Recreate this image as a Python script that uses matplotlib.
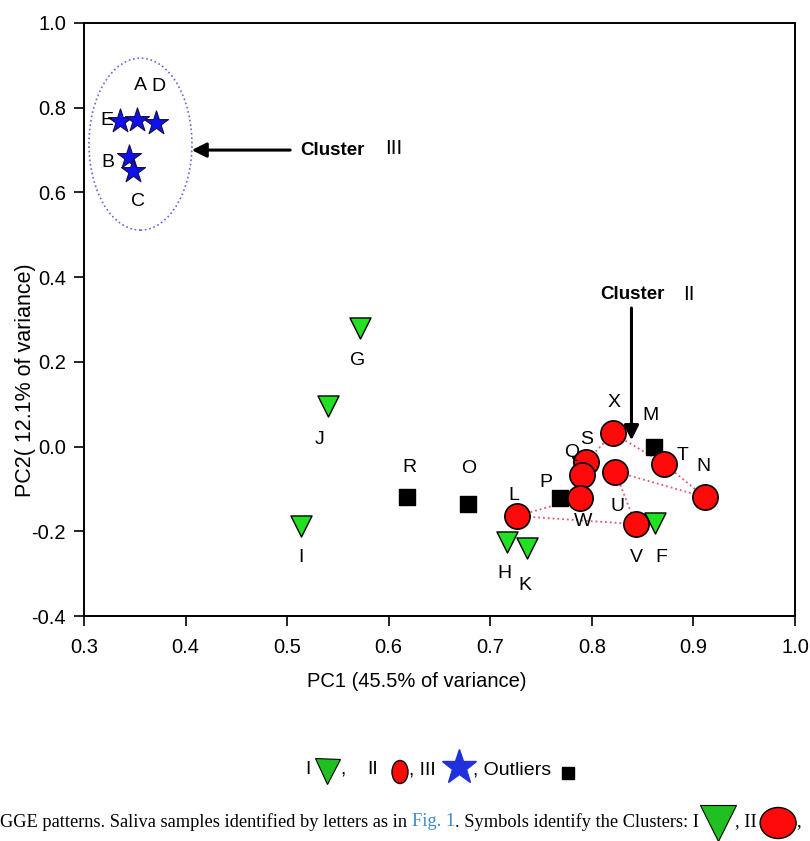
import matplotlib
matplotlib.use('Agg')
import matplotlib.pyplot as plt
from matplotlib.patches import Ellipse

# cluster I (green triangles)
labels_I = ['G', 'J', 'I', 'H', 'K', 'F']
pc1_I = [0.572, 0.540, 0.514, 0.716, 0.736, 0.862]
pc2_I = [0.280, 0.096, -0.188, -0.226, -0.240, -0.181]

# cluster II (red circles)
labels_II = ['X', 'T', 'N', 'U', 'V', 'S', 'Q', 'W', 'L']
pc1_II = [0.821, 0.871, 0.911, 0.823, 0.843, 0.794, 0.790, 0.788, 0.726]
pc2_II = [0.031, -0.040, -0.119, -0.059, -0.183, -0.036, -0.067, -0.122, -0.164]

# cluster III (blue stars)
labels_III = ['E', 'A', 'D', 'B', 'C']
pc1_III = [0.335, 0.352, 0.371, 0.344, 0.348]
pc2_III = [0.769, 0.771, 0.763, 0.684, 0.651]

# outliers (black squares)
labels_out = ['R', 'O', 'P', 'M']
pc1_out = [0.618, 0.678, 0.769, 0.861]
pc2_out = [-0.119, -0.136, -0.122, 0.000]

# dotted links between cluster II samples
links_II = [('S', 'X'), ('X', 'T'), ('T', 'N'), ('N', 'U'), ('U', 'V'),
            ('V', 'L'), ('L', 'W'), ('Q', 'W')]

xticks = [0.3, 0.4, 0.5, 0.6, 0.7, 0.8, 0.9, 1.0]
yticks = [-0.4, -0.2, 0.0, 0.2, 0.4, 0.6, 0.8, 1.0]

# label offsets in pixels (dx right, dy down)
label_off = {
    'A': (4, -34), 'D': (2, -37), 'E': (-13, 0), 'B': (-21, 6), 'C': (5, 31),
    'G': (-3, 33), 'J': (-8, 34), 'I': (0, 31), 'H': (-2, 31), 'K': (-2, 37),
    'R': (2, -29), 'O': (1, -36), 'L': (-3, -21), 'P': (-14, -16),
    'Q': (-10, -22), 'S': (1, -22), 'X': (1, -31), 'M': (-3, -31),
    'T': (19, -8), 'N': (-1, -30), 'U': (2, 35), 'W': (3, 23),
    'V': (1, 33), 'F': (6, 34),
}

GREEN = '#22e022'
RED = '#ff0a0a'
BLUE = '#1010ee'
SANS = ['Liberation Sans', 'DejaVu Sans']

plt.rcParams['font.family'] = SANS
fig = plt.figure(figsize=(8.1, 8.41), dpi=100)
ax = fig.add_axes([84 / 810, 1 - 616 / 841, 711 / 810, 593 / 841])

pos = {}
for labs, xs, ys in [(labels_I, pc1_I, pc2_I), (labels_II, pc1_II, pc2_II),
                     (labels_III, pc1_III, pc2_III), (labels_out, pc1_out, pc2_out)]:
    for l, x, y in zip(labs, xs, ys):
        pos[l] = (x, y)

for a, b in links_II:
    ax.plot([pos[a][0], pos[b][0]], [pos[a][1], pos[b][1]], ls=':',
            color='#e05a6a', lw=1.3, zorder=2)

ax.scatter(pc1_I, pc2_I, marker='v', s=230, c=GREEN, edgecolors='black',
           linewidths=1.0, zorder=4)
ax.scatter(pc1_out, pc2_out, marker='s', s=140, c='black', zorder=3)
ax.scatter(pc1_II, pc2_II, marker='o', s=330, c=RED, edgecolors='black',
           linewidths=1.2, zorder=4)
ax.scatter(pc1_III, pc2_III, marker='*', s=330, c=BLUE, edgecolors='#101040',
           linewidths=0.8, zorder=4)

for l, (x, y) in pos.items():
    dx, dy = label_off[l]
    ax.annotate(l, (x, y), xytext=(dx, -dy), textcoords='offset pixels',
                ha='center', va='center', fontsize=14, zorder=5)

ax.add_patch(Ellipse((0.3556, 0.714), 0.1014, 0.406, fill=False,
                     ec='#7060e0', ls=':', lw=1.2))

arrow = dict(arrowstyle='-|>', color='black', lw=2.2, mutation_scale=22,
             shrinkA=0, shrinkB=0)
ax.annotate('', xy=(0.406, 0.700), xytext=(0.503, 0.700), arrowprops=arrow)
ax.text(0.513, 0.700, 'Cluster', fontsize=13.5, fontweight='bold', va='center')
ax.text(0.596, 0.704, 'III', fontsize=15, va='center')
ax.annotate('', xy=(0.839, 0.015), xytext=(0.839, 0.327), arrowprops=arrow)
ax.text(0.808, 0.358, 'Cluster', fontsize=13.5, fontweight='bold', va='center')
ax.text(0.890, 0.360, 'II', fontsize=15, va='center')

ax.set_xlim(0.3, 1.0)
ax.set_ylim(-0.4, 1.0)
ax.set_xticks(xticks)
ax.set_xticklabels(['%.1f' % v for v in xticks])
ax.set_yticks(yticks)
ax.set_yticklabels(['%.1f' % v for v in yticks])
ax.tick_params(direction='out', length=7, width=1.2)
ax.tick_params(axis='x', labelsize=14.5, pad=9)
ax.tick_params(axis='y', labelsize=14.5, pad=6)
for sp in ax.spines.values():
    sp.set_linewidth(1.4)
ax.set_xlabel('PC1 (45.5% of variance)', fontsize=14.5)
ax.set_ylabel('PC2( 12.1% of variance)', fontsize=15.5)
ax.xaxis.set_label_coords(0.468, -0.094)
ax.yaxis.set_label_coords(-0.068, 0.398)

# overlay in pixel coordinates for the symbol key and caption
ov = fig.add_axes([0, 0, 1, 1], zorder=-1)
ov.set_xlim(0, 810)
ov.set_ylim(841, 0)
ov.axis('off')

ov.text(305, 770, 'I', fontsize=14, va='center')
ov.plot([327], [771], marker='v', ms=18, mfc='#20c020', mec='black', mew=0.8)
ov.text(340, 770, ',', fontsize=14, va='center')
ov.text(367, 770, 'II', fontsize=14, va='center')
ov.add_patch(Ellipse((400, 772), 16, 23, fc=RED, ec='black', lw=1))
ov.text(409, 770, ', III', fontsize=14, va='center')
ov.plot([459], [767], marker='*', ms=26, mfc='#2030dd', mec='#2030dd')
ov.text(473, 770, ', Outliers', fontsize=14, va='center')
ov.plot([568], [773], marker='s', ms=9, mfc='black', mec='black')

fig.canvas.draw()
renderer = fig.canvas.get_renderer()


def put(x, y, s, **kw):
    t = ov.text(x, y, s, va='center', ha='left', fontsize=13.2,
                family=['Liberation Serif', 'DejaVu Serif'], **kw)
    return x + t.get_window_extent(renderer).width


cx = put(0, 822, 'GGE patterns. Saliva samples identified by letters as in ')
cx = put(cx, 822, 'Fig. 1', color='#3a8cc8')
cx = put(cx, 822, '. Symbols identify the Clusters: I ')
ov.plot([cx + 15], [823], marker='v', ms=26, mfc='#20c020', mec='black', mew=0.8)
cx = put(cx + 32, 822, ', II')
ov.add_patch(Ellipse((cx + 21, 823), 36, 31, fc=RED, ec='black', lw=1))
put(cx + 39, 822, ',')

fig.savefig('out.png', dpi=100)
